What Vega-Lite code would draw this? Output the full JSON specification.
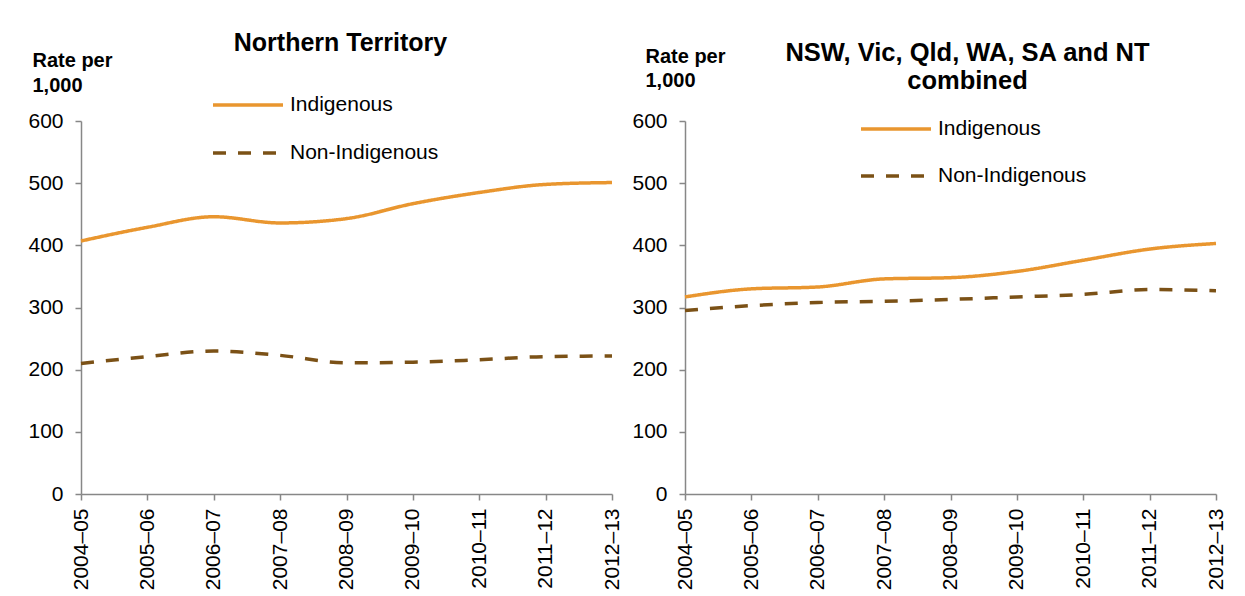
{
  "$schema": "https://vega.github.io/schema/vega-lite/v6.json",
  "background": "white",
  "padding": {"left": 27, "top": 31, "right": 5, "bottom": 0},
  "autosize": {"type": "pad"},
  "datasets": {
    "rates": [
      {"panel": "NT", "year": "2004–05", "group": "Indigenous", "rate": 407},
      {"panel": "NT", "year": "2005–06", "group": "Indigenous", "rate": 429},
      {"panel": "NT", "year": "2006–07", "group": "Indigenous", "rate": 446},
      {"panel": "NT", "year": "2007–08", "group": "Indigenous", "rate": 436},
      {"panel": "NT", "year": "2008–09", "group": "Indigenous", "rate": 443},
      {"panel": "NT", "year": "2009–10", "group": "Indigenous", "rate": 467},
      {"panel": "NT", "year": "2010–11", "group": "Indigenous", "rate": 485},
      {"panel": "NT", "year": "2011–12", "group": "Indigenous", "rate": 498},
      {"panel": "NT", "year": "2012–13", "group": "Indigenous", "rate": 501},
      {"panel": "NT", "year": "2004–05", "group": "Non-Indigenous", "rate": 210},
      {"panel": "NT", "year": "2005–06", "group": "Non-Indigenous", "rate": 221},
      {"panel": "NT", "year": "2006–07", "group": "Non-Indigenous", "rate": 230},
      {"panel": "NT", "year": "2007–08", "group": "Non-Indigenous", "rate": 223},
      {"panel": "NT", "year": "2008–09", "group": "Non-Indigenous", "rate": 211},
      {"panel": "NT", "year": "2009–10", "group": "Non-Indigenous", "rate": 212},
      {"panel": "NT", "year": "2010–11", "group": "Non-Indigenous", "rate": 216},
      {"panel": "NT", "year": "2011–12", "group": "Non-Indigenous", "rate": 221},
      {"panel": "NT", "year": "2012–13", "group": "Non-Indigenous", "rate": 222},
      {"panel": "ALL", "year": "2004–05", "group": "Indigenous", "rate": 317},
      {"panel": "ALL", "year": "2005–06", "group": "Indigenous", "rate": 330},
      {"panel": "ALL", "year": "2006–07", "group": "Indigenous", "rate": 333},
      {"panel": "ALL", "year": "2007–08", "group": "Indigenous", "rate": 346},
      {"panel": "ALL", "year": "2008–09", "group": "Indigenous", "rate": 348},
      {"panel": "ALL", "year": "2009–10", "group": "Indigenous", "rate": 358},
      {"panel": "ALL", "year": "2010–11", "group": "Indigenous", "rate": 376},
      {"panel": "ALL", "year": "2011–12", "group": "Indigenous", "rate": 394},
      {"panel": "ALL", "year": "2012–13", "group": "Indigenous", "rate": 403},
      {"panel": "ALL", "year": "2004–05", "group": "Non-Indigenous", "rate": 295},
      {"panel": "ALL", "year": "2005–06", "group": "Non-Indigenous", "rate": 303},
      {"panel": "ALL", "year": "2006–07", "group": "Non-Indigenous", "rate": 308},
      {"panel": "ALL", "year": "2007–08", "group": "Non-Indigenous", "rate": 310},
      {"panel": "ALL", "year": "2008–09", "group": "Non-Indigenous", "rate": 313},
      {"panel": "ALL", "year": "2009–10", "group": "Non-Indigenous", "rate": 317},
      {"panel": "ALL", "year": "2010–11", "group": "Non-Indigenous", "rate": 321},
      {"panel": "ALL", "year": "2011–12", "group": "Non-Indigenous", "rate": 329},
      {"panel": "ALL", "year": "2012–13", "group": "Non-Indigenous", "rate": 327}
    ]
  },
  "config": {
    "font": "Liberation Sans",
    "view": {"stroke": null},
    "axis": {
      "domainColor": "#878787",
      "tickColor": "#878787",
      "domainWidth": 1.5,
      "tickWidth": 1.5,
      "tickSize": 6,
      "labelFont": "Liberation Sans",
      "labelFontSize": 21,
      "labelColor": "#000000",
      "grid": false
    },
    "title": {
      "font": "Liberation Sans",
      "fontSize": 25,
      "fontWeight": "bold",
      "color": "#000000",
      "anchor": "middle",
      "frame": "group"
    }
  },
  "bounds": "flush",
  "spacing": 73,
  "resolve": {
    "legend": {"color": "independent", "strokeDash": "independent"},
    "scale": {"color": "independent", "strokeDash": "independent"}
  },
  "hconcat": [
    {
      "width": 531,
      "height": 373,
      "title": {"text": "Northern Territory", "dx": -6, "offset": -6},
      "data": {"name": "rates"},
      "transform": [{"filter": "datum.panel === 'NT'"}],
      "mark": {"type": "line", "interpolate": "monotone", "strokeWidth": 3.5, "strokeCap": "butt"},
      "encoding": {
        "x": {
          "field": "year", "type": "ordinal", "sort": null,
          "scale": {"type": "point", "padding": 0},
          "axis": {"title": null, "labelAngle": -90, "labelPadding": 8}
        },
        "y": {
          "field": "rate", "type": "quantitative",
          "scale": {"domain": [0, 600], "nice": false},
          "axis": {
            "values": [0, 100, 200, 300, 400, 500, 600],
            "labelPadding": 12,
            "title": ["Rate per", "1,000"],
            "titleAngle": 0,
            "titleAlign": "left",
            "titleBaseline": "alphabetic",
            "titleX": -49,
            "titleY": -55,
            "titleFontSize": 20,
            "titleFontWeight": "bold",
            "titleColor": "#000000",
            "titleLineHeight": 25
          }
        },
        "color": {
          "field": "group", "type": "nominal",
          "scale": {"domain": ["Indigenous", "Non-Indigenous"], "range": ["#E9962F", "#7B5116"]},
          "legend": {
            "orient": "none", "legendX": 130, "legendY": -26, "title": null,
            "symbolType": "stroke", "symbolSize": 4900, "symbolStrokeWidth": 3.5,
            "labelFontSize": 21, "labelColor": "#000000", "labelOffset": 5,
            "clipHeight": 20, "rowPadding": 27, "padding": 0
          }
        },
        "strokeDash": {
          "field": "group", "type": "nominal",
          "scale": {"domain": ["Indigenous", "Non-Indigenous"], "range": [[1, 0], [13, 12]]},
          "legend": {
            "orient": "none", "legendX": 130, "legendY": -26, "title": null,
            "symbolType": "stroke", "symbolSize": 4900, "symbolStrokeWidth": 3.5,
            "labelFontSize": 21, "labelColor": "#000000", "labelOffset": 5,
            "clipHeight": 20, "rowPadding": 27, "padding": 0
          }
        }
      }
    },
    {
      "width": 531,
      "height": 373,
      "title": {"text": ["NSW, Vic, Qld, WA, SA and NT", "combined"], "dx": 17, "lineHeight": 28, "offset": -48, "fontSize": 25.5},
      "data": {"name": "rates"},
      "transform": [{"filter": "datum.panel === 'ALL'"}],
      "mark": {"type": "line", "interpolate": "monotone", "strokeWidth": 3.5, "strokeCap": "butt"},
      "encoding": {
        "x": {
          "field": "year", "type": "ordinal", "sort": null,
          "scale": {"type": "point", "padding": 0},
          "axis": {"title": null, "labelAngle": -90, "labelPadding": 8}
        },
        "y": {
          "field": "rate", "type": "quantitative",
          "scale": {"domain": [0, 600], "nice": false},
          "axis": {
            "values": [0, 100, 200, 300, 400, 500, 600],
            "labelPadding": 12,
            "title": ["Rate per", "1,000"],
            "titleAngle": 0,
            "titleAlign": "left",
            "titleBaseline": "alphabetic",
            "titleX": -40,
            "titleY": -59,
            "titleFontSize": 20,
            "titleFontWeight": "bold",
            "titleColor": "#000000",
            "titleLineHeight": 24
          }
        },
        "color": {
          "field": "group", "type": "nominal",
          "scale": {"domain": ["Indigenous", "Non-Indigenous"], "range": ["#E9962F", "#7B5116"]},
          "legend": {
            "orient": "none", "legendX": 174, "legendY": -2, "title": null,
            "symbolType": "stroke", "symbolSize": 4900, "symbolStrokeWidth": 3.5,
            "labelFontSize": 21, "labelColor": "#000000", "labelOffset": 5,
            "clipHeight": 20, "rowPadding": 26, "padding": 0
          }
        },
        "strokeDash": {
          "field": "group", "type": "nominal",
          "scale": {"domain": ["Indigenous", "Non-Indigenous"], "range": [[1, 0], [13, 12]]},
          "legend": {
            "orient": "none", "legendX": 174, "legendY": -2, "title": null,
            "symbolType": "stroke", "symbolSize": 4900, "symbolStrokeWidth": 3.5,
            "labelFontSize": 21, "labelColor": "#000000", "labelOffset": 5,
            "clipHeight": 20, "rowPadding": 26, "padding": 0
          }
        }
      }
    }
  ]
}
